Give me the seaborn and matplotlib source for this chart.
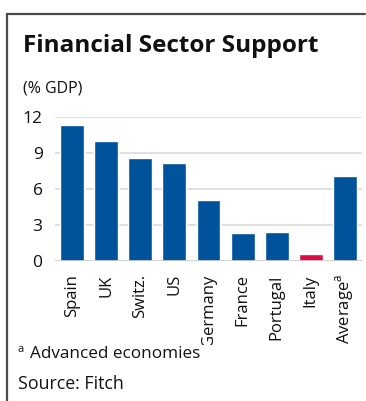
import matplotlib
matplotlib.use("Agg")
import matplotlib.pyplot as plt
from matplotlib.lines import Line2D
from matplotlib.transforms import Bbox, TransformedBbox
import seaborn as sns
import pandas as pd

# Financial sector support by country, % of GDP
countries = ["Spain", "UK", "Switz.", "US", "Germany", "France", "Portugal", "Italy", "Average"]
support = [11.3, 10.0, 8.6, 8.2, 5.1, 2.3, 2.4, 0.6, 7.1]
tick_labels = ["Spain", "UK", "Switz.", "US", "Germany", "France", "Portugal", "Italy",
               r"Average$^{\mathrm{a}}$"]
y_ticks = [0, 3, 6, 9, 12]

BLUE = "#00529B"
RED = "#DC0A45"
palette = {c: (RED if c == "Italy" else BLUE) for c in countries}

sns.set_style("white")
plt.rcParams["font.family"] = ["Open Sans", "DejaVu Sans"]
plt.rcParams["mathtext.fontset"] = "custom"
plt.rcParams["mathtext.rm"] = "Open Sans"

W, H = 366, 401
fig = plt.figure(figsize=(W / 100, H / 100), dpi=100)


def fx(px):
    return px / W


def fy(px):
    return 1 - px / H


ax = fig.add_axes([fx(55), fy(261), fx(362) - fx(55), fy(117) - fy(261)])

df = pd.DataFrame({"country": countries, "support": support})
sns.barplot(data=df, x="country", y="support", hue="country", palette=palette,
            order=countries, width=0.7, saturation=1, legend=False, ax=ax)

ax.set_xlim(-0.5, len(countries) - 0.5)
ax.set_ylim(0, 12)
ax.set_xlabel("")
ax.set_ylabel("")
for s in ax.spines.values():
    s.set_visible(False)

ax.set_yticks(y_ticks)
ax.set_yticklabels([str(v) for v in y_ticks])
ax.yaxis.grid(True, color="#D9D9D9", linewidth=1.1)
ax.set_axisbelow(True)
ax.tick_params(axis="y", length=0, pad=9, labelsize=12.5, labelcolor="#111111")

ax.set_xticks(range(len(countries)))
ax.set_xticklabels(tick_labels, rotation=90, ha="center", va="top")
ax.set_xticks([i - 0.5 for i in range(len(countries) + 1)], minor=True)
ax.tick_params(axis="x", which="major", length=0, pad=9.5, labelsize=12,
               labelcolor="#111111")
ax.tick_params(axis="x", which="minor", length=5, width=1, color="#CFCFCF")
ax.axhline(0, color="#CFCFCF", linewidth=1.2, zorder=1)

# rotated labels are cut off above the footnote
clip = TransformedBbox(Bbox([[0, fy(344.5)], [1, 1]]), fig.transFigure)
for lab in ax.get_xticklabels():
    lab.set_clip_box(clip)
    lab.set_clip_on(True)

# frame
fig.add_artist(Line2D([fx(6.5), fx(6.5)], [fy(13.5), 0], transform=fig.transFigure,
                      color="#4A4A4A", linewidth=1.6))
fig.add_artist(Line2D([fx(6.5), fx(365)], [fy(13.5), fy(13.5)], transform=fig.transFigure,
                      color="#4A4A4A", linewidth=1.6))

fig.text(fx(23), fy(52.3), "Financial Sector Support", fontsize=17.5, fontweight="bold",
         color="#111111", va="baseline", ha="left")
fig.text(fx(23), fy(92.5), "(% GDP)", fontsize=11.5, color="#111111",
         va="baseline", ha="left")
fig.text(fx(18), fy(352), "a", fontsize=8, color="#111111", va="baseline", ha="left")
fig.text(fx(30), fy(358.3), "Advanced economies", fontsize=12.3, color="#111111",
         va="baseline", ha="left")
fig.text(fx(18), fy(389), "Source: Fitch", fontsize=12.8, color="#111111",
         va="baseline", ha="left")

fig.savefig("out.png", dpi=100)
